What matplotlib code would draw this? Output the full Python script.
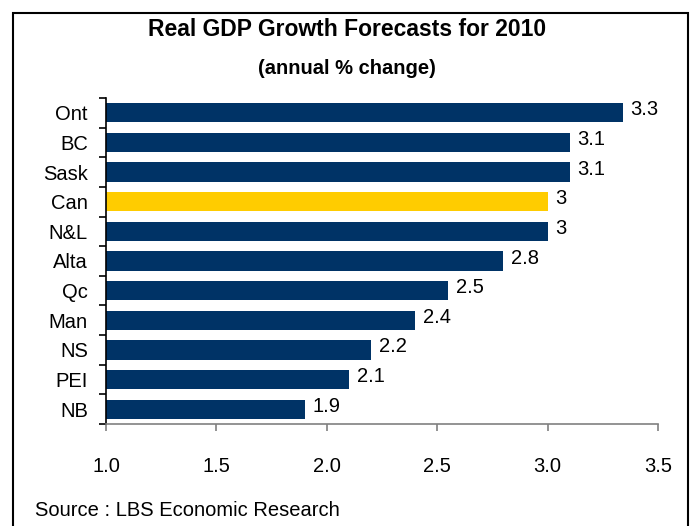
import matplotlib.pyplot as plt
from matplotlib.patches import Rectangle

regions = ['Ont', 'BC', 'Sask', 'Can', 'N&L', 'Alta', 'Qc', 'Man', 'NS', 'PEI', 'NB']
growth = [3.34, 3.1, 3.1, 3.0, 3.0, 2.8, 2.55, 2.4, 2.2, 2.1, 1.9]
value_labels = ['3.3', '3.1', '3.1', '3', '3', '2.8', '2.5', '2.4', '2.2', '2.1', '1.9']
x_ticks = [1.0, 1.5, 2.0, 2.5, 3.0, 3.5]

navy = '#003366'
gold = '#FFCC00'

plt.rcParams['font.family'] = ['Liberation Sans Narrow', 'Liberation Sans', 'DejaVu Sans']

fig = plt.figure(figsize=(6.94, 5.26), dpi=100)
ax = fig.add_axes([0.1527, 0.194, 0.7953, 0.6197])

colors = [gold if r == 'Can' else navy for r in regions]
pos = list(range(len(regions)))
ax.barh(pos, [g - 1.0 for g in growth], left=1.0, height=0.65, color=colors)

for p, g, lab in zip(pos, growth, value_labels):
    ax.text(g + 0.035, p - 0.1, lab, va='center', ha='left', fontsize=14.5)

ax.set_xlim(1.0, 3.5)
ax.set_ylim(len(regions) - 0.5, -0.5)
ax.set_xticks(x_ticks)
ax.set_xticklabels([f'{t:.1f}' for t in x_ticks], fontsize=14.5)
ax.set_yticks(pos)
ax.set_yticklabels(regions, fontsize=14.5)
ax.set_yticks([p + 0.5 for p in [-1] + pos], minor=True)
ax.tick_params(axis='y', which='major', length=0, pad=13)
ax.tick_params(axis='y', which='minor', length=5, width=1.2, color='black')
ax.tick_params(axis='x', length=5, width=1.2, color='#808080', pad=19)

for s in ['top', 'right']:
    ax.spines[s].set_visible(False)
ax.spines['left'].set_color('black')
ax.spines['left'].set_linewidth(1.2)
ax.spines['bottom'].set_color('#808080')
ax.spines['bottom'].set_linewidth(1.2)

fig.text(0.5, 0.944, 'Real GDP Growth Forecasts for 2010', ha='center', va='center',
         fontsize=16.5, fontweight='bold')
fig.text(0.5, 0.869, '(annual % change)', ha='center', va='center',
         fontsize=14.5, fontweight='bold')
fig.text(0.05, 0.03, 'Source : LBS Economic Research', ha='left', va='center', fontsize=14.5)

border = Rectangle((13 / 694, -0.05), 675 / 694, 1.05 - 13 / 526, transform=fig.transFigure,
                   fill=False, edgecolor='black', linewidth=1.5, clip_on=False)
fig.patches.append(border)

fig.savefig('out.png', dpi=100)
